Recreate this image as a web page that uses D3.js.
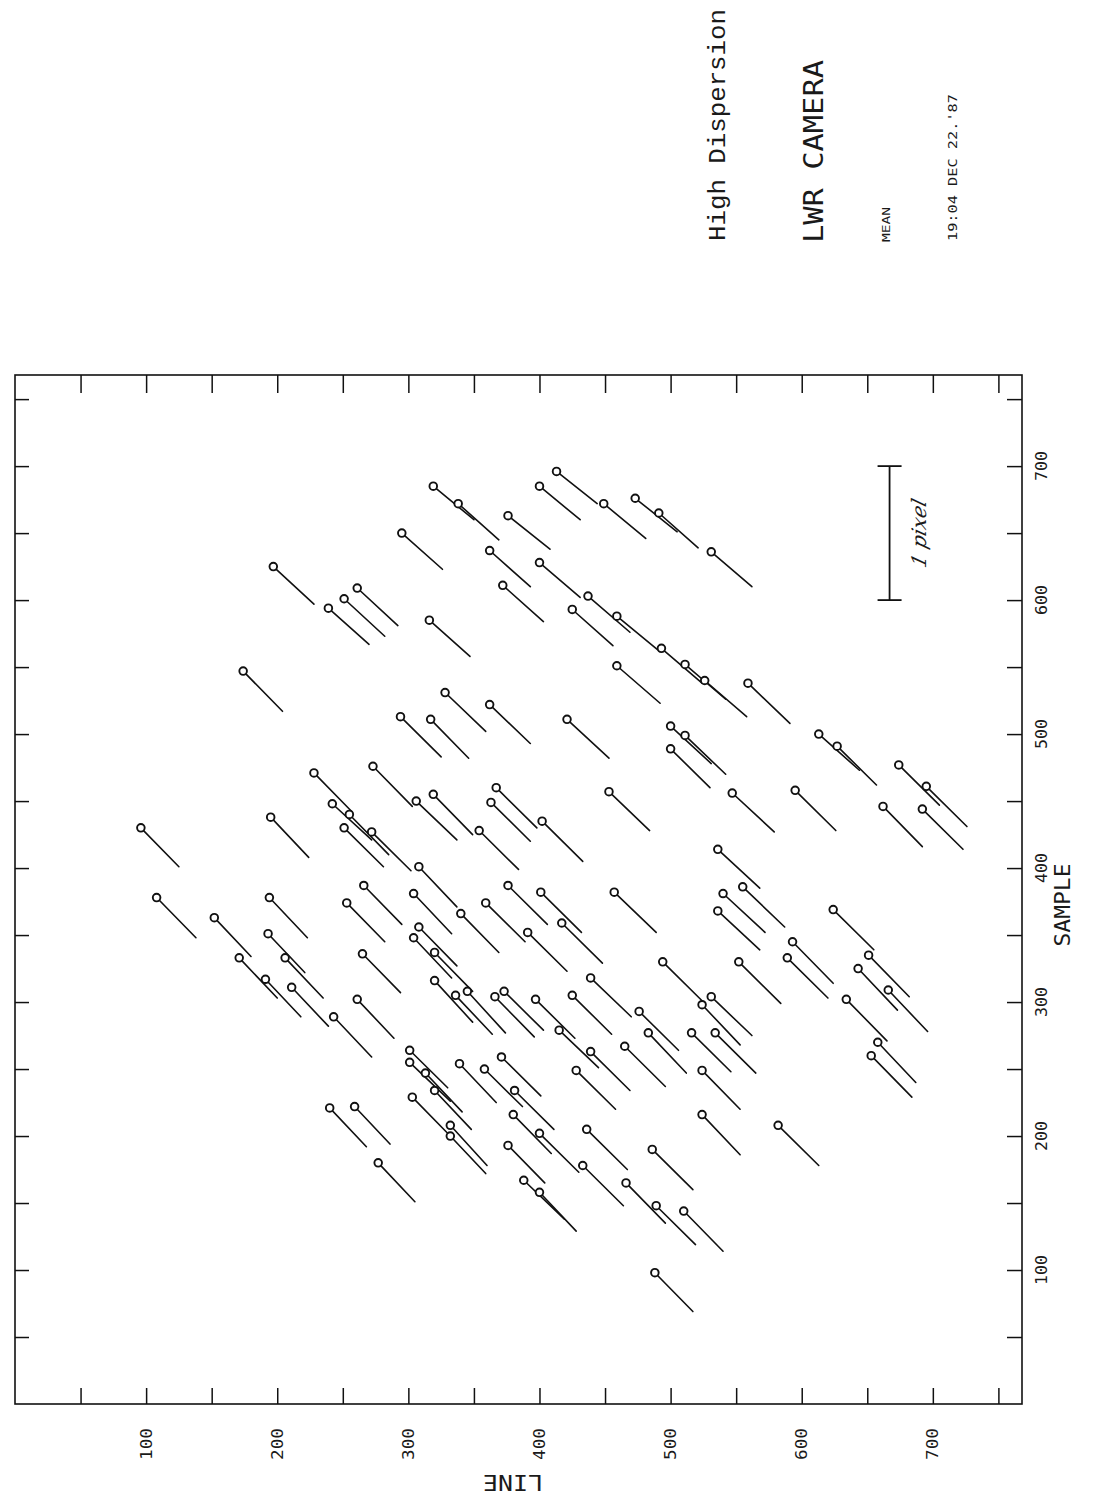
<!DOCTYPE html>
<html>
<head>
<meta charset="utf-8">
<script src="https://cdn.jsdelivr.net/npm/d3@7/dist/d3.min.js"></script>
<style>
  html, body { margin: 0; padding: 0; background: #fff; }
  svg { display: block; }
  .plot-font { font-family: "DejaVu Sans Mono", monospace; fill: #1a1a1a; }
</style>
</head>
<body>
<svg id="chart" width="1095" height="1502"></svg>
<script>
// Reseau / fiducial positions on the camera image (LINE, SAMPLE) and the
// measured displacement of each one, in camera pixels.
const lineCoord = [
  197,239,251,261,174,295,294,319,338,413,
  449,400,473,491,531,317,376,362,372,400,
  437,459,493,511,526,425,316,459,328,362,
  421,500,511,500,559,613,627,547,595,674,
  695,662,692,536,555,540,536,624,593,589,
  552,651,643,666,634,658,653,531,524,534,
  516,524,524,582,510,228,242,255,251,272,
  273,306,195,96,108,152,194,193,206,171,
  191,211,266,253,265,261,243,308,304,308,
  304,453,367,363,402,354,319,376,401,457,
  359,340,417,391,320,320,336,345,366,373,
  397,415,425,439,494,476,483,240,259,277,
  301,301,313,320,303,332,332,339,358,381,
  371,428,439,465,380,400,436,486,376,433,
  388,400,466,489,488
];
const sampleCoord = [
  625,594,601,609,547,650,513,685,672,696,
  672,685,676,665,636,511,663,637,611,628,
  603,588,564,552,540,593,585,551,531,522,
  511,506,499,489,538,500,491,456,458,477,
  461,446,444,414,386,381,368,369,345,333,
  330,335,325,309,302,270,260,304,298,277,
  277,249,216,208,144,471,448,440,430,427,
  476,450,438,430,378,363,378,351,333,333,
  317,311,387,374,336,302,289,401,381,356,
  348,457,460,449,435,428,455,387,382,382,
  374,366,359,352,337,316,305,308,304,308,
  302,279,305,318,330,293,277,221,222,180,
  264,255,247,234,229,208,200,254,250,234,
  259,249,263,267,216,202,205,190,193,178,
  167,158,165,148,98
];
const shiftLine = [
  .31,.31,.31,.31,.30,.31,.31,.31,.31,.31,
  .32,.31,.32,.30,.31,.29,.32,.31,.31,.31,
  .32,.31,.31,.31,.32,.31,.31,.33,.31,.31,
  .32,.31,.31,.30,.32,.31,.30,.32,.31,.31,
  .31,.30,.31,.32,.32,.32,.32,.31,.31,.31,
  .32,.31,.30,.30,.31,.29,.31,.31,.29,.31,
  .30,.29,.29,.31,.30,.29,.30,.30,.30,.30,
  .30,.31,.29,.29,.30,.28,.29,.28,.29,.29,
  .27,.28,.29,.29,.29,.28,.29,.29,.29,.29,
  .29,.31,.31,.30,.31,.30,.30,.30,.31,.32,
  .30,.29,.31,.30,.29,.29,.28,.29,.30,.30,
  .30,.30,.30,.31,.30,.30,.29,.28,.27,.28,
  .29,.31,.28,.28,.29,.28,.27,.28,.29,.30,
  .30,.30,.30,.31,.29,.30,.31,.31,.28,.31,
  .31,.28,.30,.30,.29
];
const shiftSample = [
  -.28,-.27,-.28,-.28,-.30,-.27,-.30,-.25,-.27,-.24,
  -.26,-.25,-.25,-.26,-.26,-.29,-.25,-.27,-.27,-.26,
  -.27,-.25,-.26,-.26,-.27,-.27,-.27,-.28,-.29,-.29,
  -.29,-.28,-.29,-.29,-.30,-.27,-.29,-.29,-.30,-.30,
  -.30,-.30,-.30,-.29,-.30,-.29,-.29,-.30,-.31,-.30,
  -.31,-.31,-.31,-.31,-.31,-.30,-.31,-.29,-.30,-.30,
  -.29,-.29,-.30,-.30,-.30,-.29,-.27,-.30,-.29,-.29,
  -.30,-.29,-.30,-.29,-.30,-.29,-.30,-.29,-.30,-.30,
  -.28,-.29,-.29,-.29,-.29,-.29,-.30,-.30,-.30,-.29,
  -.30,-.29,-.30,-.29,-.30,-.29,-.30,-.29,-.30,-.30,
  -.29,-.29,-.30,-.29,-.29,-.31,-.29,-.31,-.30,-.29,
  -.29,-.28,-.29,-.29,-.29,-.29,-.30,-.29,-.28,-.29,
  -.28,-.29,-.29,-.29,-.29,-.30,-.28,-.29,-.28,-.29,
  -.29,-.29,-.29,-.30,-.29,-.29,-.30,-.30,-.28,-.30,
  -.29,-.29,-.30,-.29,-.29
];

// Axis ticks and labels (camera is 768 x 768 pixels)
const axisExtent = [0, 768];
const minorTicks = d3.range(50, 800, 50);
const labelTicks = [100, 200, 300, 400, 500, 600, 700];

// Displacements are drawn magnified: one camera pixel = 100 units.
const magnification = 100;
const scaleBarPixels = 1;
const scaleBarAt = { line: 667, sample: 600 };

const headerLines = [
  { text: "High Dispersion", x: 725, y: 241, size: 24, len: 232, family: "'Liberation Mono', monospace" },
  { text: "LWR CAMERA",      x: 823, y: 243, size: 27, len: 183, family: "'DejaVu Sans Mono', monospace" },
  { text: "MEAN",            x: 890, y: 242, size: 10, len: 35,  family: "'DejaVu Sans Mono', monospace" },
  { text: "19:04 DEC 22.'87", x: 957, y: 241, size: 13, len: 147, family: "'DejaVu Sans Mono', monospace" }
];

const svg = d3.select("#chart");

// LINE runs left to right, SAMPLE runs bottom to top
const x = d3.scaleLinear().domain(axisExtent).range([15, 1022]);
const y = d3.scaleLinear().domain(axisExtent).range([1404, 375]);

// Frame
svg.append("rect")
  .attr("x", x(0)).attr("y", y(768))
  .attr("width", x(768) - x(0)).attr("height", y(0) - y(768))
  .attr("fill", "none").attr("stroke", "#111").attr("stroke-width", 1.6);

// Inward ticks on all four sides
function tickAxis(axis, transform, size) {
  const g = svg.append("g").attr("transform", transform)
    .call(axis.tickValues(minorTicks).tickSize(size).tickFormat(""));
  g.select(".domain").remove();
  g.selectAll(".tick line").attr("stroke", "#111").attr("stroke-width", 1.5);
}
tickAxis(d3.axisBottom(x), `translate(0,${y(0)})`, -16);
tickAxis(d3.axisTop(x), `translate(0,${y(768)})`, -18);
tickAxis(d3.axisLeft(y), `translate(${x(0)},0)`, -14);
tickAxis(d3.axisRight(y), `translate(${x(768)},0)`, -15);

// Tick labels (written sideways, reading upward)
svg.append("g").selectAll("text").data(labelTicks).join("text")
  .attr("class", "plot-font")
  .attr("transform", d => `translate(${x(d)},1444) rotate(-90)`)
  .attr("text-anchor", "middle").attr("dominant-baseline", "central")
  .attr("font-size", 16).attr("textLength", 32).attr("lengthAdjust", "spacingAndGlyphs")
  .text(d => d);

svg.append("g").selectAll("text").data(labelTicks).join("text")
  .attr("class", "plot-font")
  .attr("transform", d => `translate(1041,${y(d)}) rotate(-90)`)
  .attr("text-anchor", "middle").attr("dominant-baseline", "central")
  .attr("font-size", 16).attr("textLength", 30).attr("lengthAdjust", "spacingAndGlyphs")
  .text(d => d);

// Axis titles
svg.append("text").attr("class", "plot-font")
  .attr("transform", "translate(1063,905) rotate(-90)")
  .attr("text-anchor", "middle").attr("dominant-baseline", "central")
  .attr("font-size", 21).attr("textLength", 83).attr("lengthAdjust", "spacingAndGlyphs")
  .text("SAMPLE");

svg.append("text").attr("class", "plot-font")
  .attr("transform", "translate(513,1482) rotate(180)")
  .attr("text-anchor", "middle").attr("dominant-baseline", "central")
  .attr("font-size", 22).attr("textLength", 60).attr("lengthAdjust", "spacingAndGlyphs")
  .text("LINE");

// Header block
svg.append("g").selectAll("text").data(headerLines).join("text")
  .attr("transform", d => `translate(${d.x},${d.y}) rotate(-90)`)
  .attr("font-family", d => d.family)
  .attr("font-size", d => d.size)
  .attr("textLength", d => d.len).attr("lengthAdjust", "spacingAndGlyphs")
  .attr("fill", "#1a1a1a")
  .text(d => d.text);

// Displacement vectors
const points = lineCoord.map((l, i) => ({
  line: l, sample: sampleCoord[i], dl: shiftLine[i], ds: shiftSample[i]
}));

svg.append("g").selectAll("line").data(points).join("line")
  .attr("x1", d => x(d.line)).attr("y1", d => y(d.sample))
  .attr("x2", d => x(d.line + d.dl * magnification))
  .attr("y2", d => y(d.sample + d.ds * magnification))
  .attr("stroke", "#111").attr("stroke-width", 1.6).attr("stroke-linecap", "round");

svg.append("g").selectAll("circle").data(points).join("circle")
  .attr("cx", d => x(d.line)).attr("cy", d => y(d.sample))
  .attr("r", 3.8)
  .attr("fill", "#fff").attr("stroke", "#111").attr("stroke-width", 1.9);

// Scale bar: one camera pixel
const bar = svg.append("g").attr("stroke", "#111").attr("stroke-width", 1.8);
const barX = x(scaleBarAt.line);
const barY0 = y(scaleBarAt.sample);
const barY1 = y(scaleBarAt.sample + scaleBarPixels * magnification);
bar.append("line").attr("x1", barX).attr("x2", barX).attr("y1", barY0).attr("y2", barY1);
bar.append("line").attr("x1", barX - 12).attr("x2", barX + 12).attr("y1", barY0).attr("y2", barY0);
bar.append("line").attr("x1", barX - 12).attr("x2", barX + 12).attr("y1", barY1).attr("y2", barY1);

svg.append("text")
  .attr("transform", `translate(${barX + 30},${(barY0 + barY1) / 2}) rotate(-90) skewX(-15)`)
  .attr("text-anchor", "middle").attr("dominant-baseline", "central")
  .attr("font-family", "'DejaVu Serif', serif").attr("font-style", "italic")
  .attr("font-size", 20).attr("fill", "#1a1a1a")
  .text("1 pixel");
</script>
</body>
</html>
